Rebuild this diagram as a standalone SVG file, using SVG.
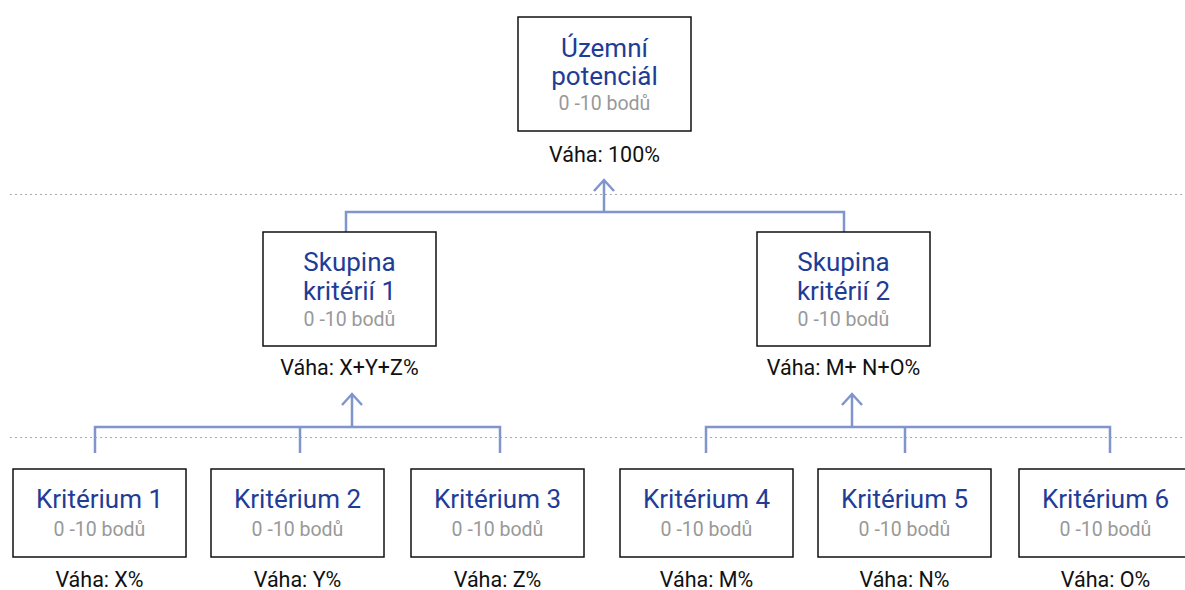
<svg xmlns="http://www.w3.org/2000/svg" width="1185" height="590" viewBox="0 0 1185 590">
<defs>
<style>
.box{fill:#fff;stroke:#111;stroke-width:1.5}
.t{font-family:Roboto,"Liberation Sans",sans-serif;font-size:26px;fill:#1f3c96;text-anchor:middle}
.s{font-family:Roboto,"Liberation Sans",sans-serif;font-size:19.5px;fill:#999;text-anchor:middle}
.w{font-family:Roboto,"Liberation Sans",sans-serif;font-size:21.5px;fill:#111;text-anchor:middle}
.c{fill:none;stroke:#7f95cc;stroke-width:2.5}
.d{fill:none;stroke:#aaa;stroke-width:1;stroke-dasharray:2 3}
</style>
</defs>
<rect width="1185" height="590" fill="#fff"/>
<g id="guides">
<line class="d" x1="10" y1="194.5" x2="1185" y2="194.5"/>
<line class="d" x1="10" y1="437.5" x2="1185" y2="437.5"/>
</g>
<g id="connectors">
<path class="c" d="M604 212V180M594 191L604 180L614 191"/>
<path class="c" d="M346 232V212H844V232"/>
<path class="c" d="M352 427V394M342 405L352 394L362 405"/>
<path class="c" d="M95 453V427H500V453M300 427V453"/>
<path class="c" d="M852 427V394M842 405L852 394L862 405"/>
<path class="c" d="M706 453V427H1110V453M905 427V453"/>
</g>
<g id="n0">
<rect class="box" x="518" y="17" width="173" height="114"/>
<text class="t" x="604.5" y="57">Územní</text>
<text class="t" x="604.5" y="85">potenciál</text>
<text class="s" x="604.5" y="110">0 -10 bodů</text>
<text class="w" x="604.5" y="162">Váha: 100%</text>
</g>
<g id="g1">
<rect class="box" x="263" y="232" width="173" height="114"/>
<text class="t" x="349.5" y="271">Skupina</text>
<text class="t" x="349.5" y="300">kritérií 1</text>
<text class="s" x="349.5" y="326">0 -10 bodů</text>
<text class="w" x="349.5" y="375">Váha: X+Y+Z%</text>
</g>
<g id="g2">
<rect class="box" x="757" y="232" width="173" height="114"/>
<text class="t" x="843.5" y="271">Skupina</text>
<text class="t" x="843.5" y="300">kritérií 2</text>
<text class="s" x="843.5" y="326">0 -10 bodů</text>
<text class="w" x="843.5" y="375">Váha: M+ N+O%</text>
</g>
<g id="k1">
<rect class="box" x="13" y="469" width="173" height="88"/>
<text class="t" x="99.5" y="508">Kritérium 1</text>
<text class="s" x="99.5" y="536">0 -10 bodů</text>
<text class="w" x="99.5" y="587">Váha: X%</text>
</g>
<g id="k2">
<rect class="box" x="211" y="469" width="173" height="88"/>
<text class="t" x="297.5" y="508">Kritérium 2</text>
<text class="s" x="297.5" y="536">0 -10 bodů</text>
<text class="w" x="297.5" y="587">Váha: Y%</text>
</g>
<g id="k3">
<rect class="box" x="411" y="469" width="173" height="88"/>
<text class="t" x="497.5" y="508">Kritérium 3</text>
<text class="s" x="497.5" y="536">0 -10 bodů</text>
<text class="w" x="497.5" y="587">Váha: Z%</text>
</g>
<g id="k4">
<rect class="box" x="620" y="469" width="173" height="88"/>
<text class="t" x="706.5" y="508">Kritérium 4</text>
<text class="s" x="706.5" y="536">0 -10 bodů</text>
<text class="w" x="706.5" y="587">Váha: M%</text>
</g>
<g id="k5">
<rect class="box" x="818" y="469" width="173" height="88"/>
<text class="t" x="904.5" y="508">Kritérium 5</text>
<text class="s" x="904.5" y="536">0 -10 bodů</text>
<text class="w" x="904.5" y="587">Váha: N%</text>
</g>
<g id="k6">
<rect class="box" x="1019" y="469" width="173" height="88"/>
<text class="t" x="1105.5" y="508">Kritérium 6</text>
<text class="s" x="1105.5" y="536">0 -10 bodů</text>
<text class="w" x="1105.5" y="587">Váha: O%</text>
</g>
</svg>
